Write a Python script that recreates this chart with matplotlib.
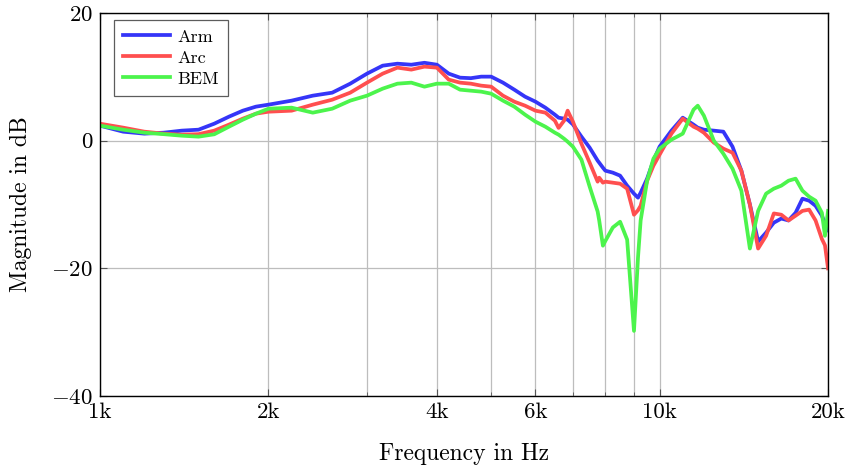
import numpy as np
import matplotlib
matplotlib.use("Agg")
import matplotlib.pyplot as plt
from matplotlib.ticker import FixedLocator, FixedFormatter

plt.rcParams['font.family'] = 'serif'
plt.rcParams['font.serif'] = ['cmr10', 'DejaVu Serif']
plt.rcParams['mathtext.fontset'] = 'cm'
plt.rcParams['axes.formatter.use_mathtext'] = True

freq = [1000, 1100, 1200, 1300, 1400, 1500, 1600, 1700, 1800, 1900, 2000,
        2200, 2400, 2600, 2800, 3000, 3200, 3400, 3600, 3800,
        4000, 4200, 4400, 4600, 4800, 5000,
        5250, 5500, 5750, 6000, 6250, 6500,
        6600, 6750, 6850, 7000, 7250, 7500, 7750, 7800, 7920, 8000,
        8250, 8500, 8750, 9000, 9150, 9250, 9500, 9750, 10000,
        10500, 11000, 11500, 11700, 12000, 12500, 13000, 13500, 14000, 14500, 15000,
        15500, 16000, 16500, 17000, 17500, 18000, 18500, 19000, 19500,
        19750, 20000]

arm = [2.35, 1.41, 1.10, 1.25, 1.57, 1.72, 2.66, 3.76, 4.70, 5.33, 5.64,
       6.27, 7.05, 7.52, 8.93, 10.5, 11.75, 12.06, 11.9, 12.2,
       11.9, 10.5, 9.87, 9.79, 10.03, 10.03,
       9.09, 7.99, 6.89, 6.11, 5.17, 4.07,
       3.6, 3.45, 3.29, 2.55, 0.63, -1.10, -3.13, -3.45, -4.23, -4.70,
       -5.01, -5.48, -7.05, -8.30, -8.93, -8.15, -5.95, -3.13, -0.94,
       1.57, 3.60, 2.51, 2.04, 1.72, 1.57, 1.41, -0.94, -4.70, -10.0, -15.8,
       -14.4, -12.85, -12.2, -12.5, -11.3, -9.09, -9.40, -10.2, -11.75,
       -13.0, -14.0]

arc = [2.66, 2.04, 1.41, 1.10, 0.94, 1.02, 1.57, 2.51, 3.45, 4.23, 4.54,
       4.70, 5.64, 6.42, 7.52, 9.09, 10.5, 11.44, 11.13, 11.6,
       11.44, 9.56, 9.09, 8.93, 8.62, 8.46,
       7.05, 6.11, 5.48, 4.70, 4.39, 3.13,
       2.0, 3.13, 4.7, 2.98, -0.47, -3.45, -6.42, -5.80, -6.58, -6.42,
       -6.58, -6.74, -7.52, -11.6, -10.9, -10.2, -6.27, -3.92, -2.19,
       1.10, 3.45, 2.19, 1.88, 1.25, -0.31, -1.25, -1.88, -4.70, -10.0, -16.9,
       -14.9, -11.4, -11.6, -12.5, -11.75, -11.0, -10.8, -12.5, -15.4,
       -16.4, -20.0]

bem = [2.35, 1.72, 1.25, 1.02, 0.78, 0.63, 1.0, 2.19, 3.29, 4.23, 5.01,
       5.17, 4.39, 5.01, 6.27, 7.05, 8.15, 8.93, 9.09, 8.46,
       8.93, 8.93, 7.99, 7.83, 7.68, 7.36,
       6.27, 5.33, 4.07, 2.98, 2.19, 1.25,
       0.94, 0.31, -0.16, -0.94, -2.98, -7.21, -11.1, -12.5, -16.45, -15.7,
       -13.6, -12.7, -15.5, -29.8, -18.3, -12.5, -6.27, -2.82, -1.25,
       0.16, 1.10, 4.86, 5.48, 3.92, 0.0, -2.04, -4.39, -7.83, -16.9, -11.0,
       -8.30, -7.52, -7.05, -6.27, -5.95, -7.83, -8.77, -9.40, -11.3,
       -14.9, -11.0]

series = [("Arm", arm, '#3535f8'), ("Arc", arc, '#ff4f4f'), ("BEM", bem, '#4cf44c')]

xticks = [1000, 2000, 4000, 6000, 10000, 20000]
xticklabels = ['1k', '2k', '4k', '6k', '10k', '20k']
xminor = [3000, 5000, 7000, 8000, 9000]
yticks = [-40, -20, 0, 20]

fig = plt.figure(figsize=(8.54, 4.66), dpi=100)
ax = fig.add_axes([0.1171, 0.1502, 0.8525, 0.8219])

for name, vals, col in series:
    ax.plot(freq, vals, color=col, lw=2.7, label=name, solid_joinstyle='round')

ax.set_xscale('log')
ax.set_xlim(1000, 20000)
ax.set_ylim(-40, 20)
ax.xaxis.set_major_locator(FixedLocator(xticks))
ax.xaxis.set_major_formatter(FixedFormatter(xticklabels))
ax.xaxis.set_minor_locator(FixedLocator(xminor))
ax.xaxis.set_minor_formatter(FixedFormatter([''] * len(xminor)))
ax.set_yticks(yticks)

ax.grid(True, which='both', axis='x', color='#bdbdbd', lw=0.9)
ax.grid(True, which='major', axis='y', color='#bdbdbd', lw=0.9)
ax.set_axisbelow(True)

ax.tick_params(which='both', direction='in', top=True, right=True,
               labelsize=16.5, color='#555555')
ax.tick_params(which='major', length=5, pad=5)
ax.tick_params(which='minor', length=3)
for s in ax.spines.values():
    s.set_linewidth(1.0)

ax.set_xlabel('Frequency in Hz', fontsize=17, labelpad=15)
ax.set_ylabel('Magnitude in dB', fontsize=17, labelpad=14)

leg = ax.legend(loc='upper left', bbox_to_anchor=(0.019, 0.982), fontsize=13,
                frameon=True, fancybox=False, edgecolor='#333333',
                handlelength=2.6, handletextpad=0.4, borderpad=0.5,
                labelspacing=0.3, borderaxespad=0)
leg.get_frame().set_linewidth(0.9)

fig.savefig('out.png', dpi=100)
